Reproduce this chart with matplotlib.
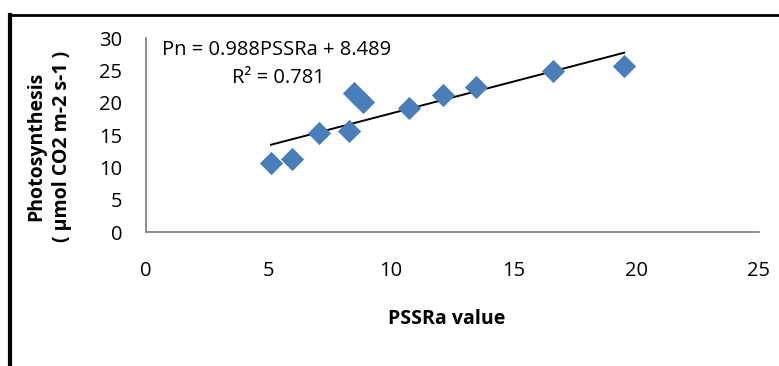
import matplotlib.pyplot as plt
from matplotlib.lines import Line2D

# PSSRa value vs photosynthesis readings
pssra = [5.11, 5.96, 7.07, 8.29, 8.48, 8.87, 10.75, 12.13, 13.48, 16.62, 19.51]
pn = [10.67, 11.38, 15.31, 15.71, 21.49, 20.15, 19.27, 21.23, 22.51, 24.94, 25.72]

# linear trendline as printed on the chart
slope = 0.988
intercept = 8.489
r2 = 0.781

plt.rcParams['font.family'] = ['Open Sans', 'DejaVu Sans']

fig = plt.figure(figsize=(7.79, 3.66), dpi=100)
ax = fig.add_axes([0.187, 0.3653, 0.787, 0.5301])

ax.scatter(pssra, pn, marker='D', s=140, color='#4a7ebb', zorder=3, linewidths=0)

x0, x1 = min(pssra), max(pssra)
ax.plot([x0, x1], [slope * x0 + intercept, slope * x1 + intercept], color='black', lw=1.4, zorder=2)

ax.set_xlim(0, 25)
ax.set_ylim(0, 30)
ax.set_xticks([0, 5, 10, 15, 20, 25])
ax.set_yticks([0, 5, 10, 15, 20, 25, 30])
ax.tick_params(axis='both', length=0, labelsize=14.5)
ax.tick_params(axis='y', pad=17)
ax.tick_params(axis='x', pad=21)

for s in ['top', 'right']:
    ax.spines[s].set_visible(False)
for s in ['left', 'bottom']:
    ax.spines[s].set_color('#868686')
    ax.spines[s].set_linewidth(1.3)

ax.text(0.65, 28.2, 'Pn = %.3fPSSRa + %.3f' % (slope, intercept), fontsize=14.5, va='center')
ax.text(3.5, 23.8, 'R² = %.3f' % r2, fontsize=14.5, va='center')

fig.text(0.063, 0.6, 'Photosynthesis\n( µmol CO2 m-2 s-1 )', rotation=90, ha='center', va='center',
         multialignment='center', fontsize=14, fontweight='bold', linespacing=1.4)
fig.text(0.573, 0.128, 'PSSRa value', ha='center', va='center', fontsize=14, fontweight='bold')

# chart frame remnants (left and top)
fig.add_artist(Line2D([0.0128, 0.0128], [0, 0.96], color='black', lw=3, transform=fig.transFigure))
fig.add_artist(Line2D([0.0128, 1.0], [0.959, 0.959], color='black', lw=2, transform=fig.transFigure))

fig.savefig('out.png', dpi=100)
